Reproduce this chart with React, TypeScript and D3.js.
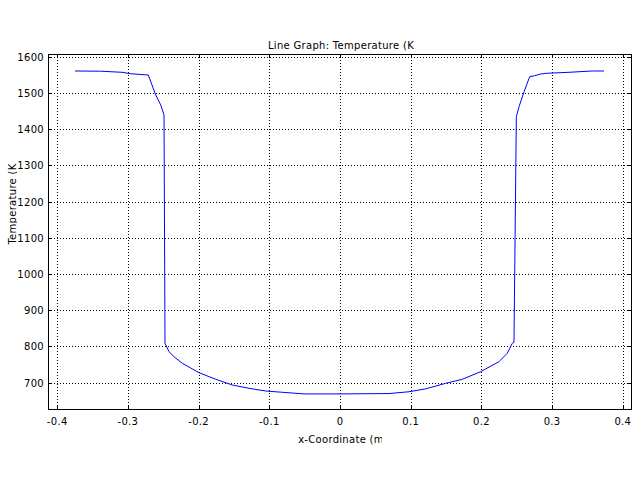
import React from "react";
import * as d3 from "d3";

const xData = [
  -0.3748, -0.3385, -0.3083, -0.296, -0.2711, -0.2607, -0.2536, -0.2489, -0.2475,
  -0.2419, -0.2348, -0.2231, -0.1994, -0.1758, -0.1523, -0.1287, -0.1051, -0.0816,
  -0.0509, 0.0, 0.0693, 0.0976, 0.1212, 0.1495, 0.173, 0.199, 0.2249, 0.2366, 0.2437,
  0.2461, 0.2494, 0.2532, 0.2603, 0.2683, 0.2754, 0.2839, 0.2918, 0.3239, 0.3569, 0.3734,
];
const tempData = [
  1560.6, 1560, 1557, 1553, 1549.5, 1494.6, 1467, 1439, 808.8,
  785.6, 771.8, 753.6, 727.6, 709.4, 693.6, 684.5, 677, 673.5,
  669, 669, 670, 675, 683, 698.3, 709.4, 730.4, 758, 781.2, 808.8,
  812, 1434.4, 1462, 1503.4, 1544.8, 1547.6, 1552.3, 1554.2, 1557, 1560.6, 1560.6,
];
const xTicks = [-0.4, -0.3, -0.2, -0.1, 0, 0.1, 0.2, 0.3, 0.4];
const yTicks = [700, 800, 900, 1000, 1100, 1200, 1300, 1400, 1500, 1600];
const titleText = "Line Graph: Temperature (K";
const xLabelText = "x-Coordinate (m";
const yLabelText = "Temperature (K";

const W = 640, H = 480;
const L = 48, R = 632, T = 54, B = 410;
const FONT = "'DejaVu Sans', sans-serif";
const TICK = 4;

export default function App() {
  const x = d3.scaleLinear().domain([-0.413, 0.413]).range([L, R]);
  const y = d3.scaleLinear().domain([624.6, 1607.5]).range([B, T]);
  const pts: [number, number][] = xData.map((v, i) => [v, tempData[i]]);
  const line = d3.line<[number, number]>().x(d => x(d[0])).y(d => y(d[1]));
  const fmtX = (v: number) => (v === 0 ? "0" : String(v));
  const px = (v: number) => Math.round(v) + 0.5;
  return (
    <svg width={W} height={H} style={{ position: "absolute", left: 0, top: 0, background: "#fff" }}>
      <defs>
        <clipPath id="plotclip"><rect x={L} y={T} width={R - L} height={B - T} /></clipPath>
        <clipPath id="titleclip"><rect x={0} y={0} width={416} height={60} /></clipPath>
        <clipPath id="xlabclip"><rect x={0} y={428} width={382} height={40} /></clipPath>
        <clipPath id="ylabclip"><rect x={0} y={160} width={17} height={200} /></clipPath>
      </defs>
      <rect x={0} y={0} width={W} height={H} fill="#fff" />
      <g stroke="#000" strokeWidth={1} strokeDasharray="1,2">
        {xTicks.map(t => (
          <line key={"gx" + t} x1={px(x(t))} x2={px(x(t))} y1={T} y2={B} />
        ))}
        {yTicks.map(t => (
          <line key={"gy" + t} x1={L} x2={R} y1={px(y(t))} y2={px(y(t))} />
        ))}
      </g>
      <g stroke="#000" strokeWidth={1}>
        {xTicks.map(t => (
          <g key={"tx" + t}>
            <line x1={px(x(t))} x2={px(x(t))} y1={B} y2={B - TICK} />
            <line x1={px(x(t))} x2={px(x(t))} y1={T} y2={T + TICK} />
          </g>
        ))}
        {yTicks.map(t => (
          <g key={"ty" + t}>
            <line x1={L} x2={L + TICK} y1={px(y(t))} y2={px(y(t))} />
            <line x1={R} x2={R - TICK} y1={px(y(t))} y2={px(y(t))} />
          </g>
        ))}
      </g>
      <path d={line(pts) ?? ""} fill="none" stroke="#0000ff" strokeWidth={1} clipPath="url(#plotclip)" />
      <rect x={L + 0.5} y={T + 0.5} width={R - L - 1} height={B - T - 1} fill="none" stroke="#000" strokeWidth={1} />
      <g fontFamily={FONT} fontSize={10} fill="#000" letterSpacing={0.3}>
        {xTicks.map(t => (
          <text key={"lx" + t} x={x(t)} y={425} textAnchor="middle">{fmtX(t)}</text>
        ))}
        {yTicks.map(t => (
          <text key={"ly" + t} x={44} y={y(t) + 4} textAnchor="end">{t}</text>
        ))}
      </g>
      <text x={341} y={49} textAnchor="middle" fontFamily={FONT} fontSize={10} letterSpacing={0.3} clipPath="url(#titleclip)">{titleText}</text>
      <text x={341} y={443} textAnchor="middle" fontFamily={FONT} fontSize={10} letterSpacing={0.3} clipPath="url(#xlabclip)">{xLabelText}</text>
      <g clipPath="url(#ylabclip)">
        <text transform="translate(15.5,204) rotate(-90)" textAnchor="middle" fontFamily={FONT} fontSize={10} letterSpacing={0.3}>{yLabelText}</text>
      </g>
    </svg>
  );
}
